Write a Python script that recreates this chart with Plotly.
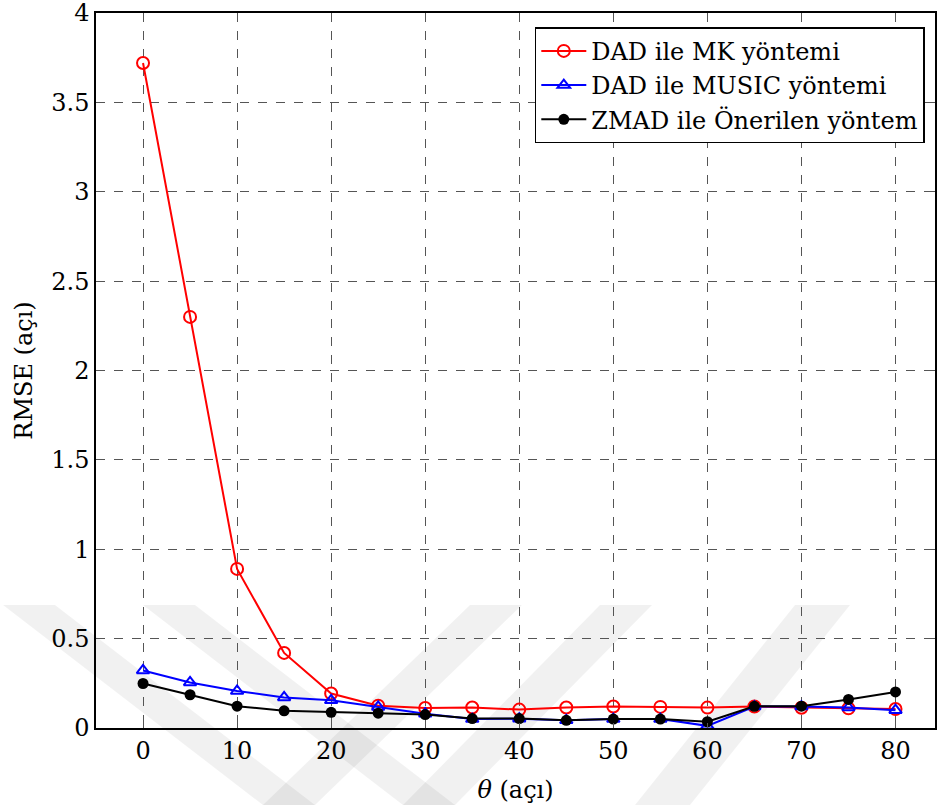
import plotly.graph_objects as go

theta = [0, 5, 10, 15, 20, 25, 30, 35, 40, 45, 50, 55, 60, 65, 70, 75, 80]
rmse_mk = [3.72, 2.30, 0.89, 0.42, 0.193, 0.125, 0.112, 0.115, 0.103, 0.115, 0.12, 0.118, 0.114, 0.12, 0.113, 0.11, 0.106]
rmse_music = [0.322, 0.255, 0.207, 0.171, 0.155, 0.118, 0.08, 0.05, 0.052, 0.043, 0.05, 0.05, 0.012, 0.12, 0.12, 0.115, 0.10]
rmse_zmad = [0.249, 0.186, 0.122, 0.096, 0.088, 0.083, 0.075, 0.053, 0.053, 0.043, 0.05, 0.05, 0.035, 0.121, 0.122, 0.16, 0.202]
names = ["DAD ile MK yöntemi", "DAD ile MUSIC yöntemi", "ZMAD ile Önerilen yöntem"]
x_ticks = [0, 10, 20, 30, 40, 50, 60, 70, 80]
y_ticks = [0, 0.5, 1, 1.5, 2, 2.5, 3, 3.5, 4]
y_ticklabels = ["0", "0.5", "1", "1.5", "2", "2.5", "3", "3.5", "4"]

FONT = "DejaVu Serif"
W, H = 937, 805
ML, MR, MT, MB = 96, 2, 13, 77

fig = go.Figure()
fig.add_trace(go.Scatter(x=theta, y=rmse_mk, name=names[0], mode="lines+markers",
                         line=dict(color="#ff0000", width=2),
                         marker=dict(symbol="circle-open", size=12, color="#ff0000", line=dict(width=2))))
fig.add_trace(go.Scatter(x=theta, y=rmse_music, name=names[1], mode="lines+markers",
                         line=dict(color="#0000ff", width=2),
                         marker=dict(symbol="triangle-up-open", size=11, color="#0000ff", line=dict(width=2))))
fig.add_trace(go.Scatter(x=theta, y=rmse_zmad, name=names[2], mode="lines+markers",
                         line=dict(color="#000000", width=2),
                         marker=dict(symbol="circle", size=11, color="#000000")))

axis_common = dict(showline=True, linecolor="black", linewidth=1.5, mirror="ticks",
                   ticks="inside", ticklen=5, tickcolor="#555", tickwidth=1,
                   showgrid=True, gridcolor="#555", griddash="dash", gridwidth=1,
                   zeroline=False, tickfont=dict(family=FONT, size=24, color="black"),
                   ticklabeloverflow="allow", automargin=False)

fig.update_xaxes(range=[-5, 84.2], tickvals=x_ticks,
                 title=dict(text="<i>θ</i> (açı)", font=dict(family=FONT, size=24, color="black"), standoff=18),
                 **axis_common)
fig.update_yaxes(range=[0, 4], tickvals=y_ticks, ticktext=y_ticklabels,
                 title=dict(text="RMSE (açı)", font=dict(family=FONT, size=24, color="black"), standoff=12),
                 **axis_common)

# faint background watermark bands (decoration, pixel polygons -> paper coords)
def px2paper(px, py):
    return (px - ML) / (W - ML - MR), (H - MB - py) / (H - MT - MB)

bands = [
    [(3, 605), (55, 605), (315, 805), (263, 805)],
    [(470, 605), (522, 605), (315, 805), (263, 805)],
    [(143, 605), (195, 605), (455, 805), (403, 805)],
    [(600, 605), (652, 605), (455, 805), (403, 805)],
    [(795, 605), (850, 605), (690, 805), (635, 805)],
]
shapes = []
for poly in bands:
    pts = [px2paper(*p) for p in poly]
    path = "M " + " L ".join(f"{x:.4f},{y:.4f}" for x, y in pts) + " Z"
    shapes.append(dict(type="path", xref="paper", yref="paper", path=path,
                       fillcolor="rgba(0,0,0,0.055)", line=dict(width=0), layer="below"))

fig.update_layout(
    width=W, height=H,
    margin=dict(l=ML, r=MR, t=MT, b=MB, autoexpand=False),
    paper_bgcolor="white", plot_bgcolor="rgba(0,0,0,0)",
    font=dict(family=FONT, size=24, color="black"),
    legend=dict(x=0.523, y=0.98, xanchor="left", yanchor="top",
                bgcolor="white", bordercolor="black", borderwidth=1.5,
                font=dict(family=FONT, size=24, color="black"),
                tracegroupgap=0, itemwidth=45),
    shapes=shapes,
    showlegend=True,
)

fig.write_html("out.html")
